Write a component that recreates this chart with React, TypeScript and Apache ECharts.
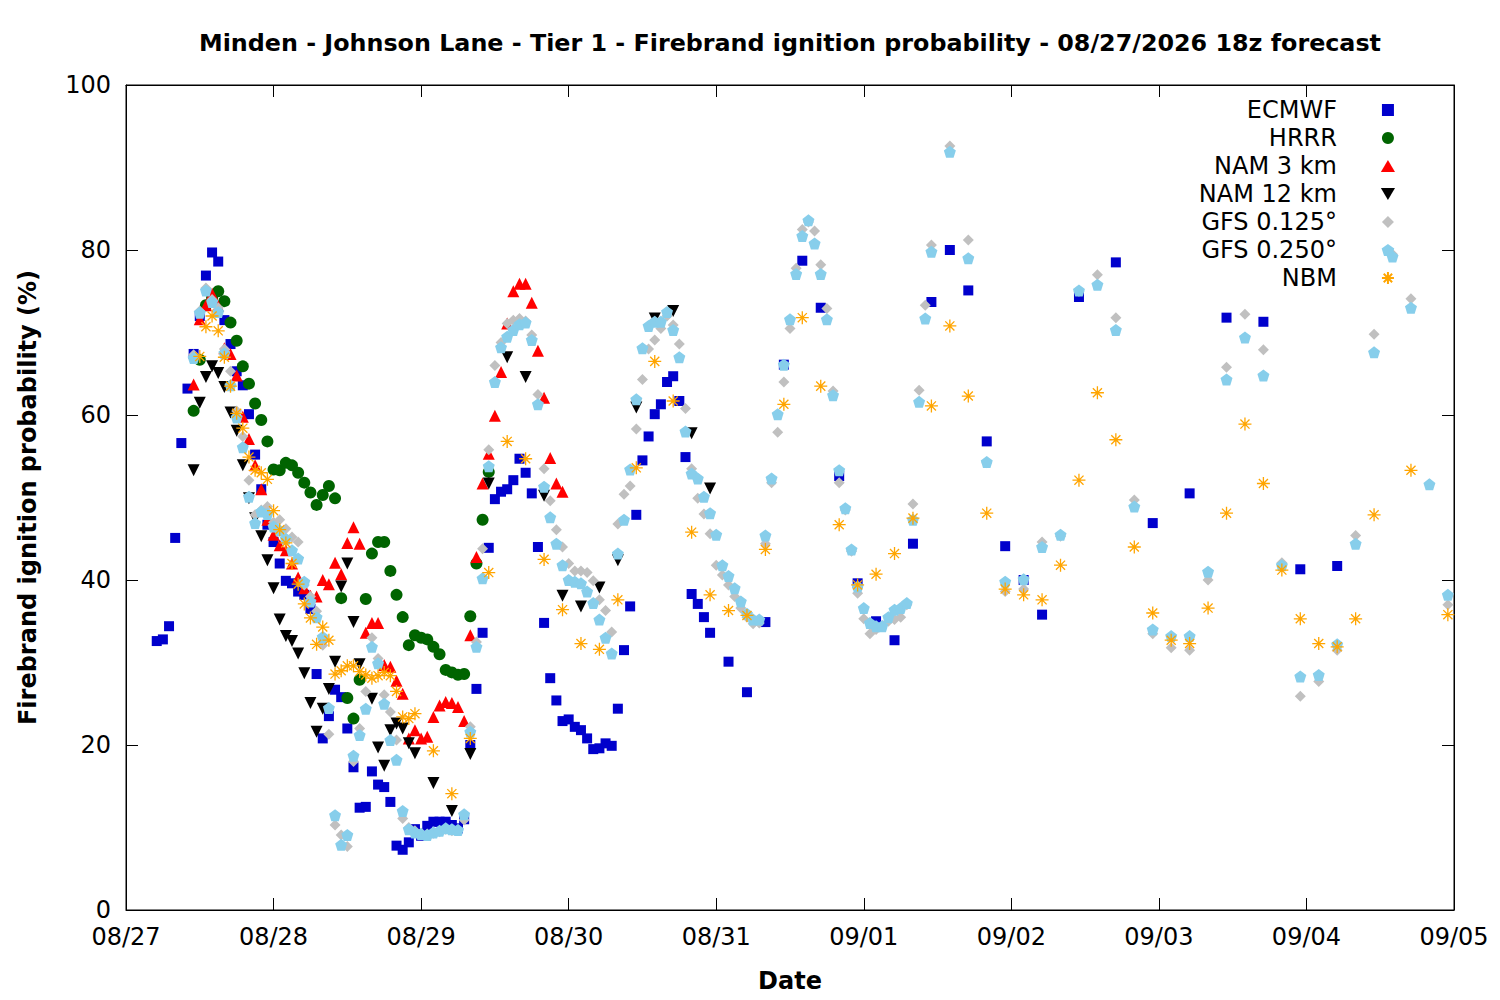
import React, { useEffect, useRef } from 'react';
import * as echarts from 'echarts';

// hours since 08/27 00z, probability (%)
const DATE_LABELS = ['08/27', '08/28', '08/29', '08/30', '08/31', '09/01', '09/02', '09/03', '09/04', '09/05'];

const ECMWF: [number, number][] = [
  [5, 32.6], [6, 32.8], [7, 34.4], [8, 45.1], [9, 56.6], [10, 63.2], [11, 67.4], [12, 72.0], [13, 76.9], [14, 79.7],
  [15, 78.6], [16, 71.5], [17, 68.6], [18, 65.3], [19, 63.6], [20, 60.1], [21, 55.2], [22, 51.0], [23, 46.7], [24, 44.6],
  [25, 42.0], [26, 39.9], [27, 39.6], [28, 38.6], [29, 38.2], [30, 36.5], [31, 28.6], [32, 20.8], [33, 23.5], [34, 26.7],
  [35, 25.8], [36, 22.0], [37, 17.3], [38, 12.4], [39, 12.5], [40, 16.8], [41, 15.2], [42, 14.9], [43, 13.1], [44, 7.8],
  [45, 7.3], [46, 8.2], [47, 9.8], [48, 9.0], [49, 10.2], [50, 10.7], [51, 10.7], [52, 10.7], [53, 10.3], [54, 9.9],
  [55, 11.0], [56, 20.0], [57, 26.8], [58, 33.6], [59, 43.9], [60, 49.8], [61, 50.7], [62, 51.0], [63, 52.1], [64, 54.7],
  [65, 53.0], [66, 50.5], [67, 44.0], [68, 34.8], [69, 28.1], [70, 25.4], [71, 22.9], [72, 23.1], [73, 22.2], [74, 21.8],
  [75, 20.8], [76, 19.5], [77, 19.6], [78, 20.2], [79, 19.9], [80, 24.4], [81, 31.5], [82, 36.8], [83, 47.9], [84, 54.5],
  [85, 57.4], [86, 60.1], [87, 61.3], [88, 64.0], [89, 64.7], [90, 61.7], [91, 54.9], [92, 38.3], [93, 37.1], [94, 35.5],
  [95, 33.6], [98, 30.1], [101, 26.4], [104, 34.9], [107, 66.1], [110, 78.7], [113, 73.0], [116, 52.6], [119, 39.6],
  [122, 35.0], [125, 32.7], [128, 44.4], [131, 73.7], [134, 80.0], [137, 75.1], [140, 56.8], [143, 44.1], [146, 40.0],
  [149, 35.8], [155, 74.3], [161, 78.5], [167, 46.9], [173, 50.5], [179, 71.8], [185, 71.3], [191, 41.3], [197, 41.7],
];

const HRRR: [number, number][] = [
  [11, 60.5], [12, 66.7], [13, 73.3], [14, 74.2], [15, 75.0], [16, 73.8], [17, 71.2], [18, 69.0], [19, 65.9], [20, 63.8],
  [21, 61.4], [22, 59.4], [23, 56.8], [24, 53.4], [25, 53.3], [26, 54.2], [27, 53.9], [28, 53.0], [29, 51.8], [30, 50.6],
  [31, 49.1], [32, 50.3], [33, 51.4], [34, 49.9], [35, 37.8], [36, 25.7], [37, 23.2], [38, 27.9], [39, 37.7], [40, 43.2],
  [41, 44.6], [42, 44.6], [43, 41.1], [44, 38.2], [45, 35.5], [46, 32.1], [47, 33.3], [48, 33.0], [49, 32.8], [50, 31.9],
  [51, 31.0], [52, 29.1], [53, 28.8], [54, 28.5], [55, 28.6], [56, 35.6], [57, 42.0], [58, 47.3], [59, 53.1],
];

const NAM3: [number, number][] = [
  [11, 63.7], [12, 71.6], [13, 73.3], [14, 74.7], [15, 73.2], [16, 68.1], [17, 67.4], [18, 64.8], [19, 59.8], [20, 57.1],
  [21, 53.9], [22, 51.0], [23, 47.3], [24, 45.5], [25, 44.2], [26, 43.6], [27, 42.0], [28, 40.3], [29, 39.0], [30, 38.1],
  [31, 38.0], [32, 40.0], [33, 39.5], [34, 42.1], [35, 40.7], [36, 44.5], [37, 46.4], [38, 44.4], [39, 33.6], [40, 34.8],
  [41, 34.8], [42, 29.7], [43, 29.5], [44, 27.8], [45, 26.2], [46, 20.8], [47, 21.8], [48, 20.8], [49, 21.0], [50, 23.4],
  [51, 24.8], [52, 25.2], [53, 25.1], [54, 24.6], [55, 22.9], [56, 33.3], [57, 42.8], [58, 51.7], [59, 55.3], [60, 59.9],
  [61, 65.2], [62, 71.1], [63, 75.0], [64, 75.9], [65, 75.9], [66, 73.6], [67, 67.8], [68, 62.1], [69, 54.8], [70, 51.7],
  [71, 50.7],
];

const NAM12: [number, number][] = [
  [11, 53.3], [12, 61.5], [13, 64.6], [14, 65.9], [15, 65.1], [16, 63.4], [17, 60.3], [18, 58.1], [19, 53.9], [20, 49.9],
  [21, 47.5], [22, 45.3], [23, 42.4], [24, 39.0], [25, 35.2], [26, 33.2], [27, 32.6], [28, 31.1], [29, 28.7], [30, 25.1],
  [31, 21.6], [32, 24.4], [33, 26.8], [34, 30.1], [35, 39.2], [36, 42.0], [37, 34.9], [38, 29.8], [40, 25.6], [41, 19.7],
  [42, 17.5], [43, 21.8], [44, 22.6], [45, 22.0], [46, 20.2], [47, 19.0], [50, 15.4], [53, 12.0], [56, 18.9], [59, 51.7],
  [62, 67.0], [65, 64.6], [68, 50.2], [71, 38.1], [74, 36.8], [77, 39.1], [80, 42.4], [83, 60.9], [86, 71.7], [89, 72.6],
  [92, 57.8], [95, 51.1],
];

const GFS0125: [number, number][] = [
  [11, 67.3], [12, 72.6], [13, 75.4], [14, 74.0], [15, 73.0], [16, 68.0], [17, 65.3], [18, 60.5], [19, 57.4], [20, 52.1],
  [21, 47.9], [22, 48.5], [23, 48.9], [24, 47.0], [25, 47.3], [26, 46.2], [27, 45.2], [28, 44.6], [29, 39.4], [30, 38.0],
  [31, 36.2], [32, 32.1], [33, 21.3], [34, 10.3], [35, 9.1], [36, 7.7], [37, 18.0], [38, 22.0], [39, 26.5], [40, 33.0],
  [41, 30.5], [42, 26.1], [43, 24.0], [44, 20.6], [45, 11.1], [46, 10.0], [47, 9.6], [48, 9.3], [49, 9.2], [50, 9.3],
  [51, 9.5], [52, 9.8], [53, 9.6], [54, 9.7], [55, 10.9], [56, 22.2], [57, 32.5], [58, 43.8], [59, 55.8], [60, 66.0],
  [61, 68.8], [62, 71.1], [63, 71.5], [64, 71.7], [65, 71.4], [66, 69.7], [67, 62.5], [68, 53.5], [69, 49.6], [70, 46.1],
  [71, 44.0], [72, 42.0], [73, 41.1], [74, 41.1], [75, 40.9], [76, 39.9], [77, 37.6], [78, 36.3], [79, 33.7], [80, 46.8],
  [81, 50.4], [82, 51.4], [83, 58.3], [84, 64.3], [85, 68.0], [86, 69.1], [87, 70.5], [88, 72.0], [89, 70.9], [90, 68.6],
  [91, 60.8], [92, 53.5], [93, 49.9], [94, 48.0], [95, 45.6], [96, 41.8], [97, 40.6], [98, 39.4], [99, 38.0], [100, 36.6],
  [101, 35.5], [102, 34.7], [103, 34.8], [104, 44.4], [105, 51.8], [106, 57.9], [107, 64.0], [108, 70.5], [109, 77.8],
  [110, 82.5], [111, 83.4], [112, 82.3], [113, 78.2], [114, 72.9], [115, 62.9], [116, 51.8], [117, 48.5], [118, 43.5],
  [119, 38.4], [120, 35.3], [121, 33.5], [122, 34.0], [123, 34.5], [124, 35.0], [125, 35.2], [126, 35.5], [127, 37.0],
  [128, 49.2], [129, 63.0], [130, 73.3], [131, 80.6], [134, 92.6], [137, 81.2], [140, 54.2], [143, 38.6], [146, 38.9],
  [149, 44.6], [152, 45.3], [155, 75.0], [158, 77.0], [161, 71.8], [164, 49.7], [167, 33.5], [170, 31.8], [173, 31.5],
  [176, 40.0], [179, 65.8], [182, 72.2], [185, 67.9], [188, 42.1], [191, 25.9], [194, 27.7], [197, 31.5], [200, 45.4],
  [203, 69.8], [206, 79.5], [209, 74.1], [212, 51.6], [215, 37.0],
];

const GFS0250: [number, number][] = [
  [11, 66.9], [12, 72.4], [13, 75.1], [14, 73.7], [15, 72.5], [16, 67.5], [17, 63.6], [18, 59.7], [19, 56.1], [20, 50.1],
  [21, 46.9], [22, 48.3], [23, 48.0], [24, 46.5], [25, 46.0], [26, 45.0], [27, 43.6], [28, 42.6], [29, 39.8], [30, 37.4],
  [31, 35.5], [32, 33.1], [33, 24.5], [34, 11.5], [35, 7.9], [36, 9.1], [37, 18.7], [38, 21.2], [39, 24.4], [40, 31.9],
  [41, 29.9], [42, 25.0], [43, 20.6], [44, 18.2], [45, 12.0], [46, 9.8], [47, 9.4], [48, 9.2], [49, 9.1], [50, 9.4],
  [51, 9.6], [52, 9.9], [53, 9.8], [54, 9.7], [55, 11.6], [56, 21.6], [57, 31.9], [58, 40.2], [59, 53.8], [60, 64.0],
  [61, 68.2], [62, 69.5], [63, 70.3], [64, 71.0], [65, 71.2], [66, 69.1], [67, 61.3], [68, 51.3], [69, 47.6], [70, 44.4],
  [71, 41.8], [72, 40.0], [73, 39.8], [74, 39.6], [75, 38.6], [76, 37.2], [77, 35.2], [78, 33.0], [79, 31.1], [80, 43.2],
  [81, 47.3], [82, 53.4], [83, 61.9], [84, 68.1], [85, 70.8], [86, 71.3], [87, 71.3], [88, 72.5], [89, 70.3], [90, 67.0],
  [91, 58.0], [92, 52.9], [93, 52.3], [94, 50.1], [95, 48.1], [96, 45.5], [97, 41.8], [98, 40.5], [99, 39.0], [100, 37.4],
  [101, 35.9], [102, 35.2], [103, 35.2], [104, 45.4], [105, 52.3], [106, 60.1], [107, 66.1], [108, 71.6], [109, 77.1],
  [110, 81.7], [111, 83.6], [112, 80.8], [113, 77.1], [114, 71.6], [115, 62.4], [116, 53.3], [117, 48.7], [118, 43.7],
  [119, 39.2], [120, 36.6], [121, 34.8], [122, 34.4], [123, 34.4], [124, 35.5], [125, 36.4], [126, 36.6], [127, 37.2],
  [128, 47.3], [129, 61.6], [130, 71.7], [131, 79.8], [134, 91.9], [137, 79.0], [140, 54.3], [143, 39.8], [146, 40.1],
  [149, 44.0], [152, 45.5], [155, 75.1], [158, 75.8], [161, 70.3], [164, 48.9], [167, 34.0], [170, 33.2], [173, 33.2],
  [176, 41.0], [179, 64.3], [182, 69.4], [185, 64.8], [188, 41.8], [191, 28.3], [194, 28.5], [197, 32.2], [200, 44.4],
  [203, 67.6], [206, 79.2], [209, 73.0], [212, 51.6], [215, 38.2],
];

const NBM: [number, number][] = [
  [12, 67.1], [13, 70.7], [14, 72.0], [15, 70.2], [16, 67.0], [17, 63.5], [18, 60.2], [19, 58.4], [20, 54.9], [21, 53.3],
  [22, 53.0], [23, 52.2], [24, 48.4], [25, 46.1], [26, 44.5], [27, 42.0], [28, 39.5], [29, 37.1], [30, 35.4], [31, 32.2],
  [32, 34.3], [33, 32.7], [34, 28.6], [35, 29.0], [36, 29.6], [37, 29.6], [38, 28.9], [39, 28.5], [40, 28.1], [41, 28.4],
  [42, 28.8], [43, 28.4], [44, 26.5], [45, 23.4], [46, 23.2], [47, 23.8], [50, 19.3], [53, 14.1], [56, 20.8], [59, 40.9],
  [62, 56.8], [65, 54.7], [68, 42.5], [71, 36.4], [74, 32.3], [77, 31.6], [80, 37.6], [83, 53.6], [86, 66.5], [89, 61.7],
  [92, 45.8], [95, 38.2], [98, 36.3], [101, 35.7], [104, 43.7], [107, 61.3], [110, 71.8], [113, 63.5], [116, 46.7],
  [119, 39.4], [122, 40.7], [125, 43.2], [128, 47.5], [131, 61.1], [134, 70.8], [137, 62.3], [140, 48.1], [143, 38.9],
  [146, 38.2], [149, 37.6], [152, 41.8], [155, 52.1], [158, 62.7], [161, 57.0], [164, 44.0], [167, 36.0], [170, 32.7],
  [173, 32.3], [176, 36.6], [179, 48.1], [182, 58.9], [185, 51.7], [188, 41.2], [191, 35.3], [194, 32.3], [197, 31.9],
  [200, 35.3], [203, 47.9], [209, 53.3], [215, 35.8],
];

const TITLE = 'Minden - Johnson Lane - Tier 1 - Firebrand ignition probability - 08/27/2026 18z forecast';
const FONT = 'DejaVu Sans';

const SQUARE = 'path://M-1,-1L1,-1L1,1L-1,1Z';
const UP_TRIANGLE = 'path://M0,-0.85L1,0.85L-1,0.85Z';
const DOWN_TRIANGLE = 'path://M-1,-0.85L1,-0.85L0,0.85Z';
const DIAMOND = 'path://M0,-1L1,0L0,1L-1,0Z';
const PENTAGON = 'path://M0,-1L0.951,-0.309L0.588,0.809L-0.588,0.809L-0.951,-0.309Z';
const ASTERISK = 'path://M0,-1L0,1M-1,0L1,0M-0.7,-0.7L0.7,0.7M-0.7,0.7L0.7,-0.7';

const App: React.FC = () => {
  const chartRef = useRef<HTMLDivElement | null>(null);

  useEffect(() => {
    if (!chartRef.current) return;
    const chart = echarts.init(chartRef.current, null, { renderer: 'svg' });

    const scatter = (name: string, data: [number, number][], symbol: string, size: number, color: string) => ({
      name,
      type: 'scatter',
      data,
      symbol,
      symbolSize: size,
      itemStyle: { color, opacity: 1 },
      emphasis: { disabled: true },
    });

    const tick = () => ({ show: true, inside: true, length: 12, lineStyle: { color: '#000', width: 1 } });
    const line = () => ({ show: true, onZero: false, lineStyle: { color: '#000', width: 1 } });

    const option = {
      animation: false,
      backgroundColor: '#fff',
      textStyle: { fontFamily: FONT },
      graphic: [
        {
          type: 'text',
          x: 790,
          y: 43,
          style: {
            text: TITLE,
            fill: '#000',
            font: `bold 23.8px "${FONT}"`,
            textAlign: 'center',
            textVerticalAlign: 'middle',
          },
        },
      ],
      grid: {
        left: 126,
        right: 46,
        top: 85,
        bottom: 90,
        show: true,
        borderColor: '#000',
        borderWidth: 1,
        backgroundColor: 'transparent',
      },
      legend: {
        orient: 'vertical',
        right: 100,
        top: 91,
        align: 'right',
        itemWidth: 92,
        itemHeight: 12,
        itemGap: 0,
        selectedMode: false,
        textStyle: { fontSize: 24, color: '#000', lineHeight: 28, fontFamily: FONT },
        data: ['ECMWF', 'HRRR', 'NAM 3 km', 'NAM 12 km', 'GFS 0.125°', 'GFS 0.250°', 'NBM'],
      },
      xAxis: [
        {
          type: 'value',
          min: 0,
          max: 216,
          interval: 24,
          position: 'bottom',
          name: 'Date',
          nameLocation: 'middle',
          nameGap: 59,
          nameTextStyle: { fontSize: 24, fontWeight: 'bold', color: '#000', fontFamily: FONT },
          axisLine: line(),
          axisTick: tick(),
          splitLine: { show: false },
          axisLabel: {
            fontSize: 24,
            color: '#000',
            margin: 15,
            formatter: (v: number) => DATE_LABELS[Math.round(v / 24)] ?? '',
          },
        },
        {
          type: 'value',
          min: 0,
          max: 216,
          interval: 24,
          position: 'top',
          axisLine: line(),
          axisTick: tick(),
          axisLabel: { show: false },
          splitLine: { show: false },
        },
      ],
      yAxis: [
        {
          type: 'value',
          min: 0,
          max: 100,
          interval: 20,
          position: 'left',
          name: 'Firebrand ignition probability (%)',
          nameLocation: 'middle',
          nameGap: 86,
          nameRotate: 90,
          nameTextStyle: { fontSize: 24, fontWeight: 'bold', color: '#000', fontFamily: FONT },
          axisLine: line(),
          axisTick: tick(),
          splitLine: { show: false },
          axisLabel: { fontSize: 24, color: '#000', margin: 15 },
        },
        {
          type: 'value',
          min: 0,
          max: 100,
          interval: 20,
          position: 'right',
          axisLine: line(),
          axisTick: tick(),
          axisLabel: { show: false },
          splitLine: { show: false },
        },
      ],
      series: [
        scatter('ECMWF', ECMWF, SQUARE, 10, '#0000cc'),
        scatter('HRRR', HRRR, 'circle', 12, '#006400'),
        scatter('NAM 3 km', NAM3, UP_TRIANGLE, 12, '#ff0000'),
        scatter('NAM 12 km', NAM12, DOWN_TRIANGLE, 12, '#000000'),
        scatter('GFS 0.125°', GFS0125, DIAMOND, 11, '#c0c0c0'),
        scatter('GFS 0.250°', GFS0250, PENTAGON, 12, '#87ceeb'),
        {
          name: 'NBM',
          type: 'scatter',
          data: NBM,
          symbol: ASTERISK,
          symbolSize: 13,
          itemStyle: { color: 'rgba(0,0,0,0)', borderColor: '#ffa500', borderWidth: 1.3, opacity: 1 },
          emphasis: { disabled: true },
        },
      ],
    };

    chart.setOption(option as any);
    return () => {
      chart.dispose();
    };
  }, []);

  return <div ref={chartRef} style={{ position: 'fixed', left: 0, top: 0, width: '1500px', height: '1000px' }} />;
};

export default App;
